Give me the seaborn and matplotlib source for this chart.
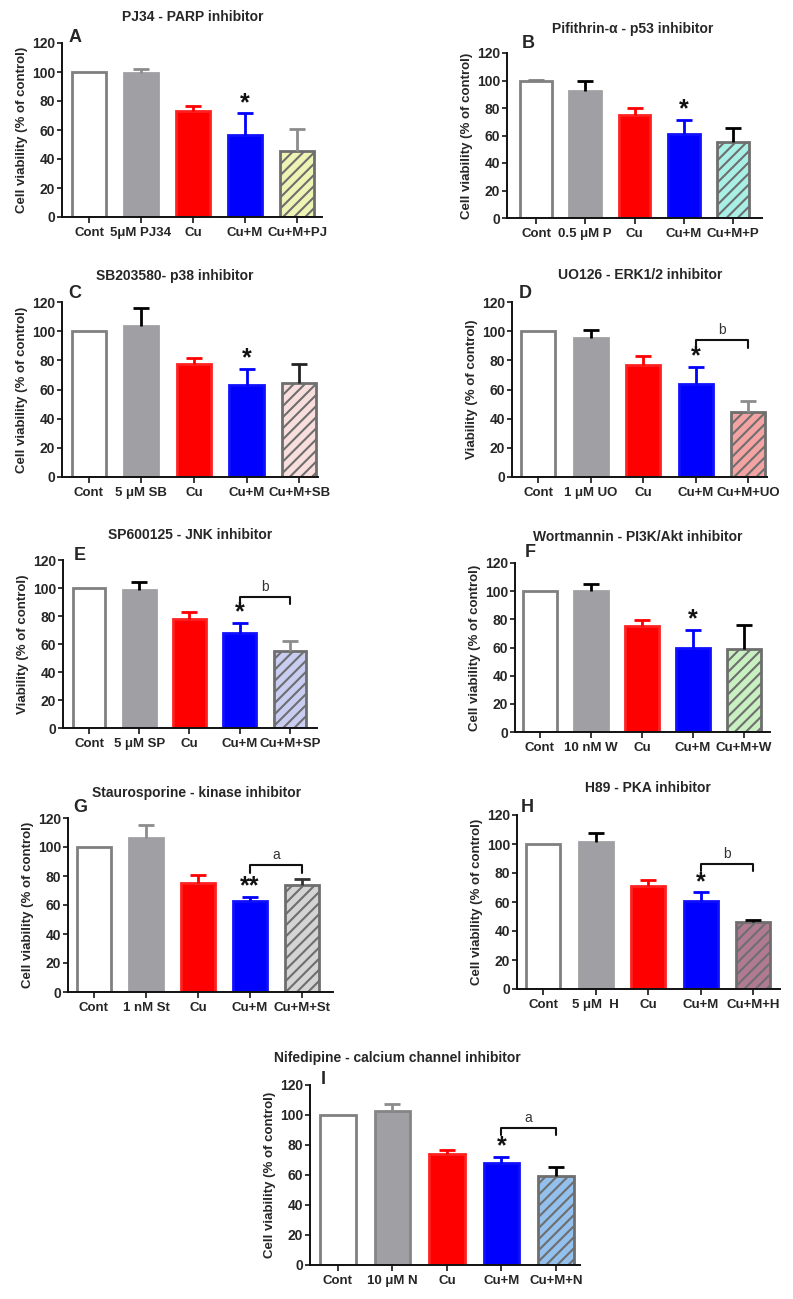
import numpy as np
import pandas as pd
import matplotlib
matplotlib.use("Agg")
import matplotlib.pyplot as plt
import seaborn as sns

# ── data (mean, upper SEM) ──
groups_a = ["Cont", "5μM PJ34", "Cu", "Cu+M", "Cu+M+PJ"]
mean_a = [100, 99.3, 73.3, 56.7, 45.2]
sem_a = [0, 3.0, 3.2, 14.7, 15.2]

groups_b = ["Cont", "0.5 μM P", "Cu", "Cu+M", "Cu+M+P"]
mean_b = [100, 92.7, 74.6, 61.3, 55.0]
sem_b = [0.7, 6.6, 5.1, 10.2, 10.4]

groups_c = ["Cont", "5 μM SB", "Cu", "Cu+M", "Cu+M+SB"]
mean_c = [100, 103.7, 77.8, 62.8, 64.4]
sem_c = [0, 12.1, 4.1, 11.1, 13.4]

groups_d = ["Cont", "1 μM UO", "Cu", "Cu+M", "Cu+M+UO"]
mean_d = [100, 95.1, 76.8, 63.8, 44.8]
sem_d = [0, 5.9, 5.9, 11.6, 7.5]

groups_e = ["Cont", "5 μM SP", "Cu", "Cu+M", "Cu+M+SP"]
mean_e = [100, 98.8, 77.9, 67.9, 55.1]
sem_e = [0, 5.2, 5.0, 6.9, 6.7]

groups_f = ["Cont", "10 nM W", "Cu", "Cu+M", "Cu+M+W"]
mean_f = [100, 100.4, 75.0, 59.6, 58.7]
sem_f = [0, 4.5, 4.3, 13.1, 17.0]

groups_g = ["Cont", "1 nM St", "Cu", "Cu+M", "Cu+M+St"]
mean_g = [100, 106.2, 75.4, 63.0, 74.0]
sem_g = [0, 8.8, 5.5, 2.3, 4.2]

groups_h = ["Cont", "5 μM  H", "Cu", "Cu+M", "Cu+M+H"]
mean_h = [100, 101.6, 70.9, 60.7, 45.9]
sem_h = [0, 5.9, 4.3, 5.9, 1.8]

groups_i = ["Cont", "10 μM N", "Cu", "Cu+M", "Cu+M+N"]
mean_i = [100, 102.7, 74.0, 67.8, 59.1]
sem_i = [0, 4.6, 2.7, 4.0, 6.2]

titles = ["PJ34 - PARP inhibitor", "Pifithrin-α - p53 inhibitor",
          "SB203580- p38 inhibitor", "UO126 - ERK1/2 inhibitor",
          "SP600125 - JNK inhibitor", "Wortmannin - PI3K/Akt inhibitor",
          "Staurosporine - kinase inhibitor", "H89 - PKA inhibitor",
          "Nifedipine - calcium channel inhibitor"]
letters = ["A", "B", "C", "D", "E", "F", "G", "H", "I"]
stars = ["*", "*", "*", "*", "*", "*", "**", "*", "*"]
# bracket between Cu+M and the inhibitor bar: (letter, height) or None
brackets = [None, None, None, ("b", 93.7), ("b", 93.8), None,
            ("a", 87.4), ("b", 86.4), ("a", 91.6)]

CELL = "Cell viability (% of control)"
VIAB = "Viability (% of control)"
ylabels = [CELL, CELL, CELL, VIAB, VIAB, CELL, CELL, CELL, CELL]

hatch_fill = ["#eef5b4", "#a8f0e6", "#f9dede", "#f4a3a3", "#c9cdf2",
              "#c8f0c0", "#d4d4d4", "#b07a93", "#93c0ec"]
# error bar colours for the drug-alone bar and the hatched bar
err2 = ["#8c8c8c", "k", "k", "k", "k", "k", "#8c8c8c", "k", "#8c8c8c"]
err5 = ["#8c8c8c", "k", "#222222", "#8c8c8c", "#8c8c8c", "k", "#333333", "k", "k"]

panels = [(groups_a, mean_a, sem_a), (groups_b, mean_b, sem_b),
          (groups_c, mean_c, sem_c), (groups_d, mean_d, sem_d),
          (groups_e, mean_e, sem_e), (groups_f, mean_f, sem_f),
          (groups_g, mean_g, sem_g), (groups_h, mean_h, sem_h),
          (groups_i, mean_i, sem_i)]

# ── layout in pixels: spine left, spine right, y=120, y=0, xlim ──
W, H = 793, 1299
layout = [
    (62, 322, 43, 217, (-0.52, 4.48)),
    (507, 762, 53, 218, (-0.59, 4.59)),
    (62, 318, 302, 477, (-0.51, 4.36)),
    (512, 767, 302, 477, (-0.50, 4.36)),
    (63, 317, 560, 728, (-0.52, 4.54)),
    (515, 770, 563, 732, (-0.49, 4.51)),
    (68, 333, 818, 992, (-0.50, 4.60)),
    (517, 780, 815, 989, (-0.50, 4.51)),
    (310, 580, 1085, 1265, (-0.51, 4.44)),
]
title_pos = [(193, 17), (633, 29), (175, 276), (640, 275), (190, 535),
             (638, 537), (197, 793), (648, 788), (397, 1058)]
letter_pos = [(75, 38), (528, 43), (75, 294), (525, 293), (80, 555),
              (530, 553), (80, 808), (527, 807), (323, 1080)]

sns.set_style("ticks")
plt.rcParams["font.family"] = ["Liberation Sans", "DejaVu Sans"]
plt.rcParams["font.weight"] = "bold"
plt.rcParams["axes.labelweight"] = "bold"
plt.rcParams["hatch.linewidth"] = 1.5

fig = plt.figure(figsize=(W / 100, H / 100), dpi=100)

for k, (groups, means, sems) in enumerate(panels):
    l, r, ytop, ybot, xlim = layout[k]
    ax = fig.add_axes([l / W, 1 - ybot / H, (r - l) / W, (ybot - ytop) / H])

    fills = ["#ffffff", "#a0a0a4", "#ff0000", "#0000ff", hatch_fill[k]]
    edges = ["#808080", "#a0a0a4" if k != 8 else "#858585", "#ff2020",
             "#1010ff", "#6e6e6e"]
    df = pd.DataFrame({"group": groups, "mean": means})
    sns.barplot(data=df, x="group", y="mean", hue="group", palette=fills,
                width=0.65, saturation=1, errorbar=None, legend=False,
                linewidth=2.0, ax=ax)
    for j, patch in enumerate(ax.patches):
        patch.set_edgecolor(edges[j])
        if j == 4:
            patch.set_hatch("///")

    ecols = ["#808080", err2[k], "#ff0000", "#0000ff", err5[k]]
    for j in range(len(groups)):
        if sems[j] > 0:
            _, caps, _ = ax.errorbar(j, means[j], yerr=[[0], [sems[j]]],
                                     fmt="none", ecolor=ecols[j],
                                     elinewidth=2.0, capsize=6,
                                     capthick=2.0, zorder=3)
            # one-sided bars: hide the cap sitting on the bar top
            for c in caps:
                if np.isclose(c.get_ydata()[0], means[j]):
                    c.set_visible(False)

    # significance star above Cu+M
    ax.text(3, means[3] + sems[3] - 1.0, stars[k], ha="center", va="bottom",
            fontsize=18, fontweight="bold", color="#111111")

    if brackets[k] is not None:
        lab, yb = brackets[k]
        ax.plot([3, 3, 4, 4], [yb - 5, yb, yb, yb - 5], color="#111111",
                lw=1.5, clip_on=False)
        ax.text(3.5, yb + 2, lab, ha="center", va="bottom", fontsize=10,
                fontweight="normal", color="#333333")

    ax.set_ylim(0, 120)
    ax.set_xlim(*xlim)
    ax.set_yticks(np.arange(0, 121, 20))
    ax.set_xlabel("")
    ax.set_ylabel(ylabels[k], fontsize=9.5, labelpad=3)
    ax.tick_params(axis="y", length=3.5, width=1.3, labelsize=10, pad=1.5)
    ax.tick_params(axis="x", length=4, width=1.3, labelsize=9.5, pad=3)
    for lbl in ax.get_xticklabels() + ax.get_yticklabels():
        lbl.set_fontweight("bold")
    for s in ("left", "bottom"):
        ax.spines[s].set_linewidth(1.4)
        ax.spines[s].set_color("#111111")
    sns.despine(ax=ax)

    tx, ty = title_pos[k]
    fig.text(tx / W, 1 - ty / H, titles[k], ha="center", va="center",
             fontsize=10, fontweight="bold")
    lx, ly = letter_pos[k]
    fig.text(lx / W, 1 - ly / H, letters[k], ha="center", va="center",
             fontsize=13, fontweight="bold")

fig.savefig("out.png", dpi=100)
